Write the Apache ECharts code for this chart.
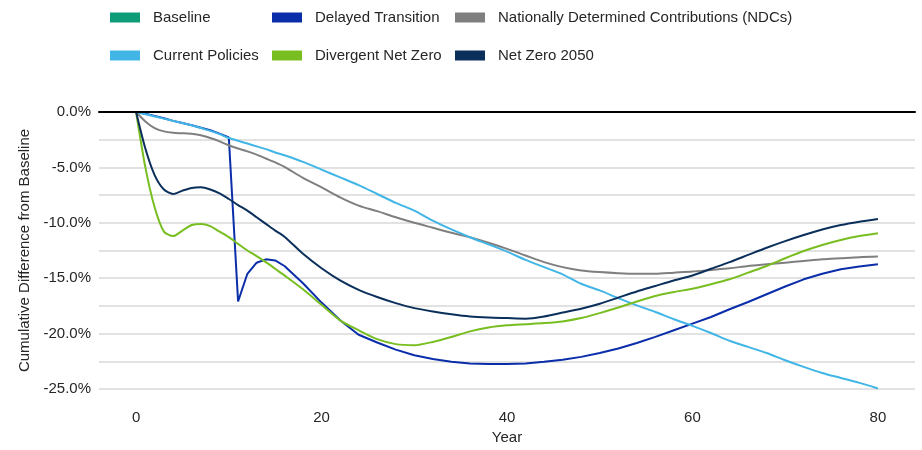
<!DOCTYPE html>
<html>
<head>
<meta charset="utf-8">
<script src="https://cdn.jsdelivr.net/npm/echarts@6/dist/echarts.min.js"></script>
<style>
html,body{margin:0;padding:0;background:#fff;}
#chart{width:922px;height:450px;}
</style>
</head>
<body>
<div id="chart"></div>
<script>
// ---- data ----
const years = [0,1,2,3,4,5,6,7,8,9,10,11,12,13,14,15,16,18,20,22,24,26,28,30,32,34,36,38,40,42,44,46,48,50,52,54,56,58,60,62,64,66,68,70,72,74,76,78,80];

const baseline = years.map(() => 0);

const delayedTransition = [0,-0.15,-0.35,-0.57,-0.8,-1.0,-1.2,-1.42,-1.65,-1.95,-2.3,-17.1,-14.6,-13.6,-13.3,-13.4,-13.9,
  -15.45,-17.2,-18.8,-20.1,-20.8,-21.45,-21.95,-22.3,-22.55,-22.7,-22.75,-22.75,-22.7,-22.55,-22.35,-22.1,-21.75,-21.35,-20.85,-20.3,-19.7,-19.1,-18.5,-17.8,-17.15,-16.45,-15.75,-15.1,-14.6,-14.2,-13.95,-13.75];

const ndcs = [0,-0.85,-1.45,-1.75,-1.88,-1.92,-1.97,-2.1,-2.35,-2.65,-3.0,-3.3,-3.55,-3.85,-4.2,-4.55,-4.95,
  -5.95,-6.8,-7.7,-8.45,-8.95,-9.5,-10.0,-10.45,-10.9,-11.3,-11.8,-12.35,-12.95,-13.55,-14.0,-14.3,-14.45,-14.55,-14.6,-14.6,-14.5,-14.4,-14.25,-14.1,-13.9,-13.75,-13.6,-13.45,-13.3,-13.2,-13.1,-13.05];

const currentPolicies = [0,-0.2,-0.4,-0.6,-0.8,-1.0,-1.2,-1.45,-1.7,-2.0,-2.35,-2.6,-2.85,-3.1,-3.35,-3.65,-3.9,
  -4.5,-5.2,-5.9,-6.6,-7.4,-8.2,-8.9,-9.8,-10.6,-11.3,-11.95,-12.6,-13.35,-14.0,-14.65,-15.5,-16.1,-16.8,-17.45,-18.05,-18.7,-19.3,-19.95,-20.65,-21.2,-21.75,-22.4,-23.0,-23.55,-24.0,-24.45,-24.95];

const divergentNetZero = [0,-5.0,-8.6,-10.8,-11.2,-10.7,-10.2,-10.1,-10.3,-10.8,-11.3,-11.9,-12.5,-13.0,-13.55,-14.15,-14.75,
  -16.0,-17.4,-18.8,-19.7,-20.5,-20.95,-21.05,-20.75,-20.3,-19.8,-19.45,-19.25,-19.15,-19.05,-18.9,-18.6,-18.15,-17.65,-17.1,-16.6,-16.25,-15.95,-15.55,-15.1,-14.5,-13.9,-13.2,-12.55,-12.0,-11.55,-11.2,-10.95];

const netZero2050 = [0,-3.3,-5.7,-7.0,-7.4,-7.1,-6.85,-6.8,-7.0,-7.35,-7.85,-8.4,-8.9,-9.5,-10.1,-10.7,-11.25,
  -12.8,-14.1,-15.2,-16.05,-16.7,-17.25,-17.7,-18.0,-18.25,-18.45,-18.55,-18.6,-18.65,-18.45,-18.1,-17.75,-17.3,-16.75,-16.2,-15.7,-15.2,-14.75,-14.15,-13.55,-12.9,-12.25,-11.65,-11.1,-10.6,-10.2,-9.9,-9.65];

const xTicks = [0,20,40,60,80];
const seriesNames = ['Baseline','Delayed Transition','Nationally Determined Contributions (NDCs)','Current Policies','Divergent Net Zero','Net Zero 2050'];
const seriesValues = [baseline, delayedTransition, ndcs, currentPolicies, divergentNetZero, netZero2050];
const colors = ['#0E9B78','#0A2DAA','#7F7F7F','#41B6E6','#78BE20','#0B2F5B'];

// ---- chart ----
const FONT = "'Liberation Sans', Arial, sans-serif";
const legendPos = [
  {left:110, top:10}, {left:272, top:10}, {left:455, top:10},
  {left:110, top:48}, {left:272, top:48}, {left:455, top:48}
];

const chart = echarts.init(document.getElementById('chart'), null, {renderer:'canvas'});
chart.setOption({
  animation:false,
  backgroundColor:'#fff',
  color: colors,
  textStyle:{fontFamily:FONT},
  legend: seriesNames.map((n,i)=>({
    data:[n], left:legendPos[i].left, top:legendPos[i].top, padding:0,
    icon:'rect', itemWidth:30, itemHeight:10, selectedMode:false,
    textStyle:{fontSize:15, color:'#262626', fontFamily:FONT, padding:[0,0,0,8]}
  })),
  grid:{left:99, right:7, top:112, bottom:61, containLabel:false},
  xAxis:[{
    type:'value', min:-4, max:84, position:'bottom',
    name:'Year', nameLocation:'middle', nameGap:41,
    nameTextStyle:{fontSize:15, color:'#262626', fontFamily:FONT},
    axisLine:{show:false}, axisTick:{show:false}, splitLine:{show:false},
    axisLabel:{customValues:xTicks, fontSize:15, color:'#262626', margin:21, fontFamily:FONT}
  },{
    type:'value', min:-4, max:84, position:'top', z:10,
    axisLine:{show:true, lineStyle:{color:'#000', width:2}},
    axisTick:{show:false}, axisLabel:{show:false}, splitLine:{show:false}
  }],
  yAxis:{
    type:'value', min:-25, max:0, interval:2.5,
    name:'Cumulative Difference from Baseline', nameLocation:'middle', nameGap:66,
    nameTextStyle:{fontSize:15, color:'#262626', fontFamily:FONT},
    axisLine:{show:false}, axisTick:{show:false},
    splitLine:{lineStyle:{color:'#d9d9d9', width:1.5}},
    axisLabel:{fontSize:15, color:'#262626', margin:8, fontFamily:FONT,
      formatter:v => (Math.abs(v % 5) < 1e-9 ? v.toFixed(1) + '%' : '')}
  },
  series: seriesNames.map((n,i)=>({
    name:n, type:'line', xAxisIndex:0,
    data: years.map((y,k)=>[y, seriesValues[i][k]]),
    showSymbol:false, symbol:'none',
    smooth: i===1 ? false : 0.25,
    lineStyle:{width:2, color:colors[i]},
    itemStyle:{color:colors[i]},
    z: i===0 ? 1 : 2
  }))
});
</script>
</body>
</html>
